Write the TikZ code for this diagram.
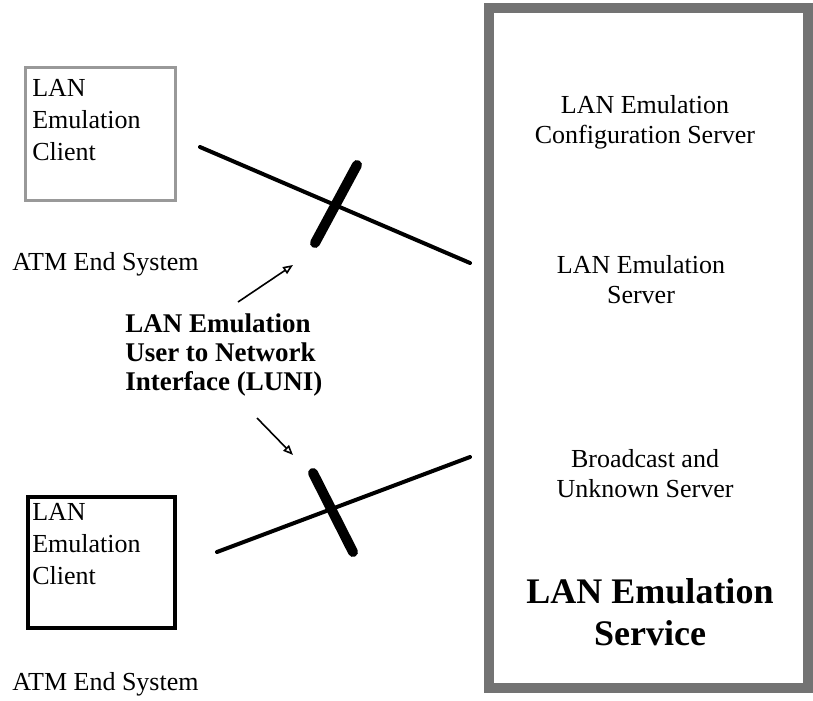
\documentclass[tikz,border=0pt]{standalone}
\usepackage{fontspec}
\setmainfont{Liberation Serif}
\usetikzlibrary{arrows.meta}

\begin{document}
\begin{tikzpicture}[x=0.75pt,y=-0.75pt,
	txt/.style={inner sep=0pt,align=left,font=\fontsize{19.5}{24}\selectfont},
	ctr/.style={inner sep=0pt,align=center,font=\fontsize{19.5}{22.5}\selectfont},
	luni/.style={inner sep=0pt,align=left,font=\fontsize{20.25}{21.75}\selectfont\bfseries},
	big/.style={inner sep=0pt,align=center,font=\fontsize{27}{31.5}\selectfont\bfseries},
	link/.style={line width=3pt,line cap=round},
	bar/.style={line width=7.5pt,line cap=round},
	pointer/.style={line width=1.2pt,-{Triangle[open,length=7.5pt,width=6pt]}}]

	\useasboundingbox (0,0) rectangle (813,700);

	% boxes
	\node[draw=black!55,line width=7.5pt,minimum width=239.25pt,minimum height=510pt] (svc) at (648.5,348) {};
	\node[draw=black!40,line width=2.25pt,minimum width=112.5pt,minimum height=99.75pt] (lec1) at (100.5,134) {};
	\node[draw,line width=3pt,minimum width=110.25pt,minimum height=97.9pt] (lec2) at (101,562.25) {};

	% base anchor sits on the last line
	\node[txt,anchor=base west] (lec1txt) at (32,160) {LAN\\Emulation\\Client};
	\node[txt,anchor=base west] (lec2txt) at (32,584) {LAN\\Emulation\\Client};
	\node[txt,anchor=base west] (es1) at (12,270) {ATM End System};
	\node[txt,anchor=base west] (es2) at (12,690) {ATM End System};

	\node[ctr,anchor=base] (lecs) at (645,143) {LAN Emulation\\Configuration Server};
	\node[ctr,anchor=base] (les) at (641,303) {LAN Emulation\\Server};
	\node[ctr,anchor=base] (bus) at (645,497) {Broadcast and\\Unknown Server};
	\node[big,anchor=base] (lesvc) at (650,645) {LAN Emulation\\Service};

	\node[luni,anchor=base west] (luninode) at (125,390) {LAN Emulation\\User to Network\\Interface (LUNI)};

	% upper LUNI
	\coordinate (u1) at (200,147);
	\coordinate (u2) at (470,263);
	\coordinate (ub1) at (357,165);
	\coordinate (ub2) at (315,243);
	\draw[link] (u1) -- (u2);
	\draw[bar] (ub1) -- (ub2);

	% lower LUNI
	\coordinate (l1) at (217,552);
	\coordinate (l2) at (470,457);
	\coordinate (lb1) at (313,473);
	\coordinate (lb2) at (353,552);
	\draw[link] (l1) -- (l2);
	\draw[bar] (lb1) -- (lb2);

	\coordinate (p1) at (238,302);
	\coordinate (p2) at (293,265);
	\coordinate (q1) at (257,418);
	\coordinate (q2) at (293,455);
	\draw[pointer] (p1) -- (p2);
	\draw[pointer] (q1) -- (q2);

\end{tikzpicture}
\end{document}
